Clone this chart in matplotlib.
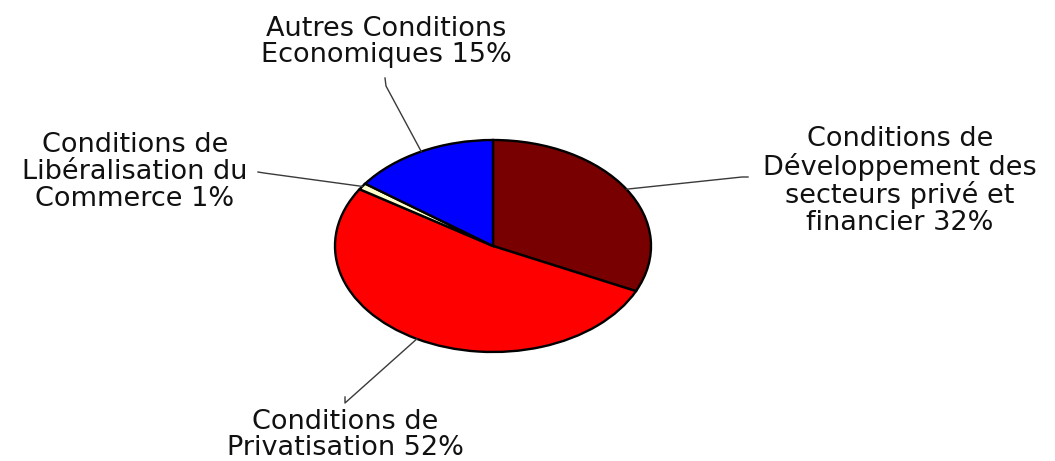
import numpy as np
import matplotlib.pyplot as plt

plt.rcParams['font.family'] = ['DejaVu Sans']

# slice data (clockwise from 12 o'clock)
labels = ["Conditions de\nDéveloppement des\nsecteurs privé et\nfinancier 32%",
          "Conditions de\nPrivatisation 52%",
          "Conditions de\nLibéralisation du\nCommerce 1%",
          "Autres Conditions\nEconomiques 15%"]
values = [32, 52, 1, 15]
colors = ["#780000", "#ff0000", "#ffffcc", "#0000ff"]

# label placement in image pixels (x, y from top-left)
text_pos = [(900, 181), (345, 435), (135, 172), (386, 42)]
# leader: start at the text, short tick, then to the wedge
line_start = [(748, 177), (345, 397), (258, 172), (385, 78)]
line_tick = [(742, 177), (345, 403), (264, 173), (386, 86)]

W, H = 1055, 461
fig = plt.figure(figsize=(W / 100, H / 100), dpi=100)

# pie is stretched horizontally in the reference
cx, cy, rx, ry = 493, 246, 158, 106
ax = fig.add_axes([(cx - rx) / W, (H - cy - ry) / H, 2 * rx / W, 2 * ry / H])
wedges, _ = ax.pie(values, colors=colors, startangle=90, counterclock=False,
                   wedgeprops=dict(edgecolor="black", linewidth=1.7))
ax.set_aspect("auto")
ax.set_xlim(-1, 1)
ax.set_ylim(-1, 1)

for w, lab, tp, ls, lt in zip(wedges, labels, text_pos, line_start, line_tick):
    ang = np.deg2rad((w.theta1 + w.theta2) / 2)
    px, py = ax.transData.transform((np.cos(ang), np.sin(ang)))
    xs = [ls[0], lt[0], px]
    ys = [H - ls[1], H - lt[1], py]
    fig.add_artist(plt.Line2D(xs, ys, transform=None, color="#3a3a3a", lw=1.0))
    fig.text(tp[0] / W, 1 - tp[1] / H, lab, ha="center", va="center",
             fontsize=19.5, color="#111111", linespacing=1.03)

fig.savefig("out.png", dpi=100)
